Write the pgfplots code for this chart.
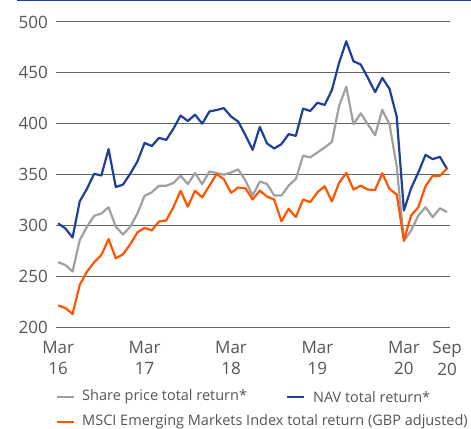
\documentclass[border=0pt]{standalone}
\usepackage{fontspec}
\setmainfont{Open Sans}
\usepackage{pgfplots}
\pgfplotsset{compat=1.18}
\definecolor{navc}{RGB}{30,64,150}
\definecolor{shpc}{RGB}{160,160,160}
\definecolor{msci}{RGB}{255,85,0}
\definecolor{gridc}{RGB}{100,100,100}
\definecolor{txtc}{RGB}{85,85,85}
\begin{document}
\begin{tikzpicture}
\path[use as bounding box] (-56bp,-102bp) rectangle (415bp,327bp);
\draw[navc, line width=1.6bp] (-39bp,326.5bp) -- (415bp,326.5bp);
\begin{axis}[
  at={(0bp,0bp)}, anchor=south west,
  scale only axis, width=394bp, height=305bp,
  xmin=-0.3, xmax=54.4, ymin=200, ymax=500,
  axis line style={draw=none},
  tick style={draw=none},
  ymajorgrids, grid style={gridc, line width=1bp},
  ytick={200,250,...,500},
  xtick={0,12,24,36,48,54},
  xticklabels={{Mar\\16},{Mar\\17},{Mar\\18},{Mar\\19},{Mar\\20},{Sep\\20}},
  xticklabel style={align=center, anchor=north, inner sep=0pt, yshift=-14bp,
    font=\fontsize{17bp}{21.5bp}\selectfont, text=txtc},
  yticklabel style={anchor=east, inner sep=0pt, xshift=-8bp,
    font=\fontsize{17bp}{21.5bp}\selectfont, text=txtc},
  /pgf/number format/assume math mode=true,
  clip=false,
]
\addplot[shpc, line width=2.2bp, line join=round] coordinates {
(0,263.7)(1,261)(2,254.5)(3,285.5)(4,298.6)(5,309.3)(6,311.6)(7,317.8)(8,298.6)(9,291)
(10,298.6)(11,311.6)(12,329)(13,332.5)(14,339)(15,339)(16,341.6)(17,348.8)(18,340.6)(19,351.4)
(20,340.6)(21,353)(22,351.4)(23,349.8)(24,352)(25,355)(26,344)(27,329.3)(28,343)(29,340.7)
(30,329.3)(31,329.3)(32,339.1)(33,345.6)(34,368.5)(35,366.8)(36,371.7)(37,376.6)(38,382)(39,417.4)
(40,436.3)(41,399.4)(42,410.2)(43,399.4)(44,388.7)(45,413.5)(46,399.4)(47,358)(48,284.5)(49,295)
(50,309.7)(51,317.8)(52,308)(53,316.8)(54,313)
};
\addplot[navc, line width=2.2bp, line join=round] coordinates {
(0,302)(1,297)(2,288)(3,323.7)(4,336)(5,350.7)(6,349)(7,375)(8,337.7)(9,340)
(10,350.7)(11,362.8)(12,381)(13,378)(14,386)(15,384)(16,395)(17,408)(18,402.6)(19,408.8)
(20,400)(21,412)(22,413.4)(23,415.3)(24,407)(25,402)(26,388.7)(27,374.3)(28,396.8)(29,380.5)
(30,375.6)(31,379.9)(32,389.7)(33,388)(34,414.8)(35,412.5)(36,420.6)(37,418.4)(38,433)(39,459.8)
(40,481)(41,461.4)(42,458.2)(43,445)(44,431)(45,445)(46,434.3)(47,407)(48,314.6)(49,336.4)
(50,352)(51,369.3)(52,365.1)(53,367.4)(54,355.3)
};
\addplot[msci, line width=2.2bp, line join=round] coordinates {
(0,221.3)(1,218.7)(2,212.8)(3,241.5)(4,254.5)(5,263.7)(6,270.8)(7,286.5)(8,267.6)(9,271.5)
(10,281.3)(11,293)(12,297.5)(13,295)(14,303.8)(15,304.8)(16,317.8)(17,334)(18,318.4)(19,334)
(20,327.6)(21,339)(22,350.4)(23,345.5)(24,332)(25,337.2)(26,336.5)(27,325.4)(28,334.2)(29,328.3)
(30,325.4)(31,303.9)(32,316.3)(33,308.1)(34,325.4)(35,322.8)(36,332.6)(37,338.5)(38,323.5)(39,341.7)
(40,351.5)(41,335.2)(42,339)(43,335.2)(44,334.9)(45,351.2)(46,335.8)(47,330.3)(48,285.3)(49,309.7)
(50,317.8)(51,338.4)(52,348.8)(53,348.8)(54,356)
};
\end{axis}
\begin{scope}[font=\fontsize{14.5bp}{17bp}\selectfont, text=txtc]
\draw[shpc, line width=2.2bp] (1bp,-70bp) -- (18bp,-70bp);
\node[anchor=west, inner sep=0pt] at (26bp,-70bp) {Share price total return*};
\draw[navc, line width=2.2bp] (231bp,-70bp) -- (248bp,-70bp);
\node[anchor=west, inner sep=0pt] at (257bp,-70bp) {NAV total return*};
\draw[msci, line width=2.2bp] (1bp,-95bp) -- (18bp,-95bp);
\node[anchor=west, inner sep=0pt] at (26bp,-95bp) {MSCI Emerging Markets Index total return (GBP adjusted)};
\end{scope}
\end{tikzpicture}
\end{document}
